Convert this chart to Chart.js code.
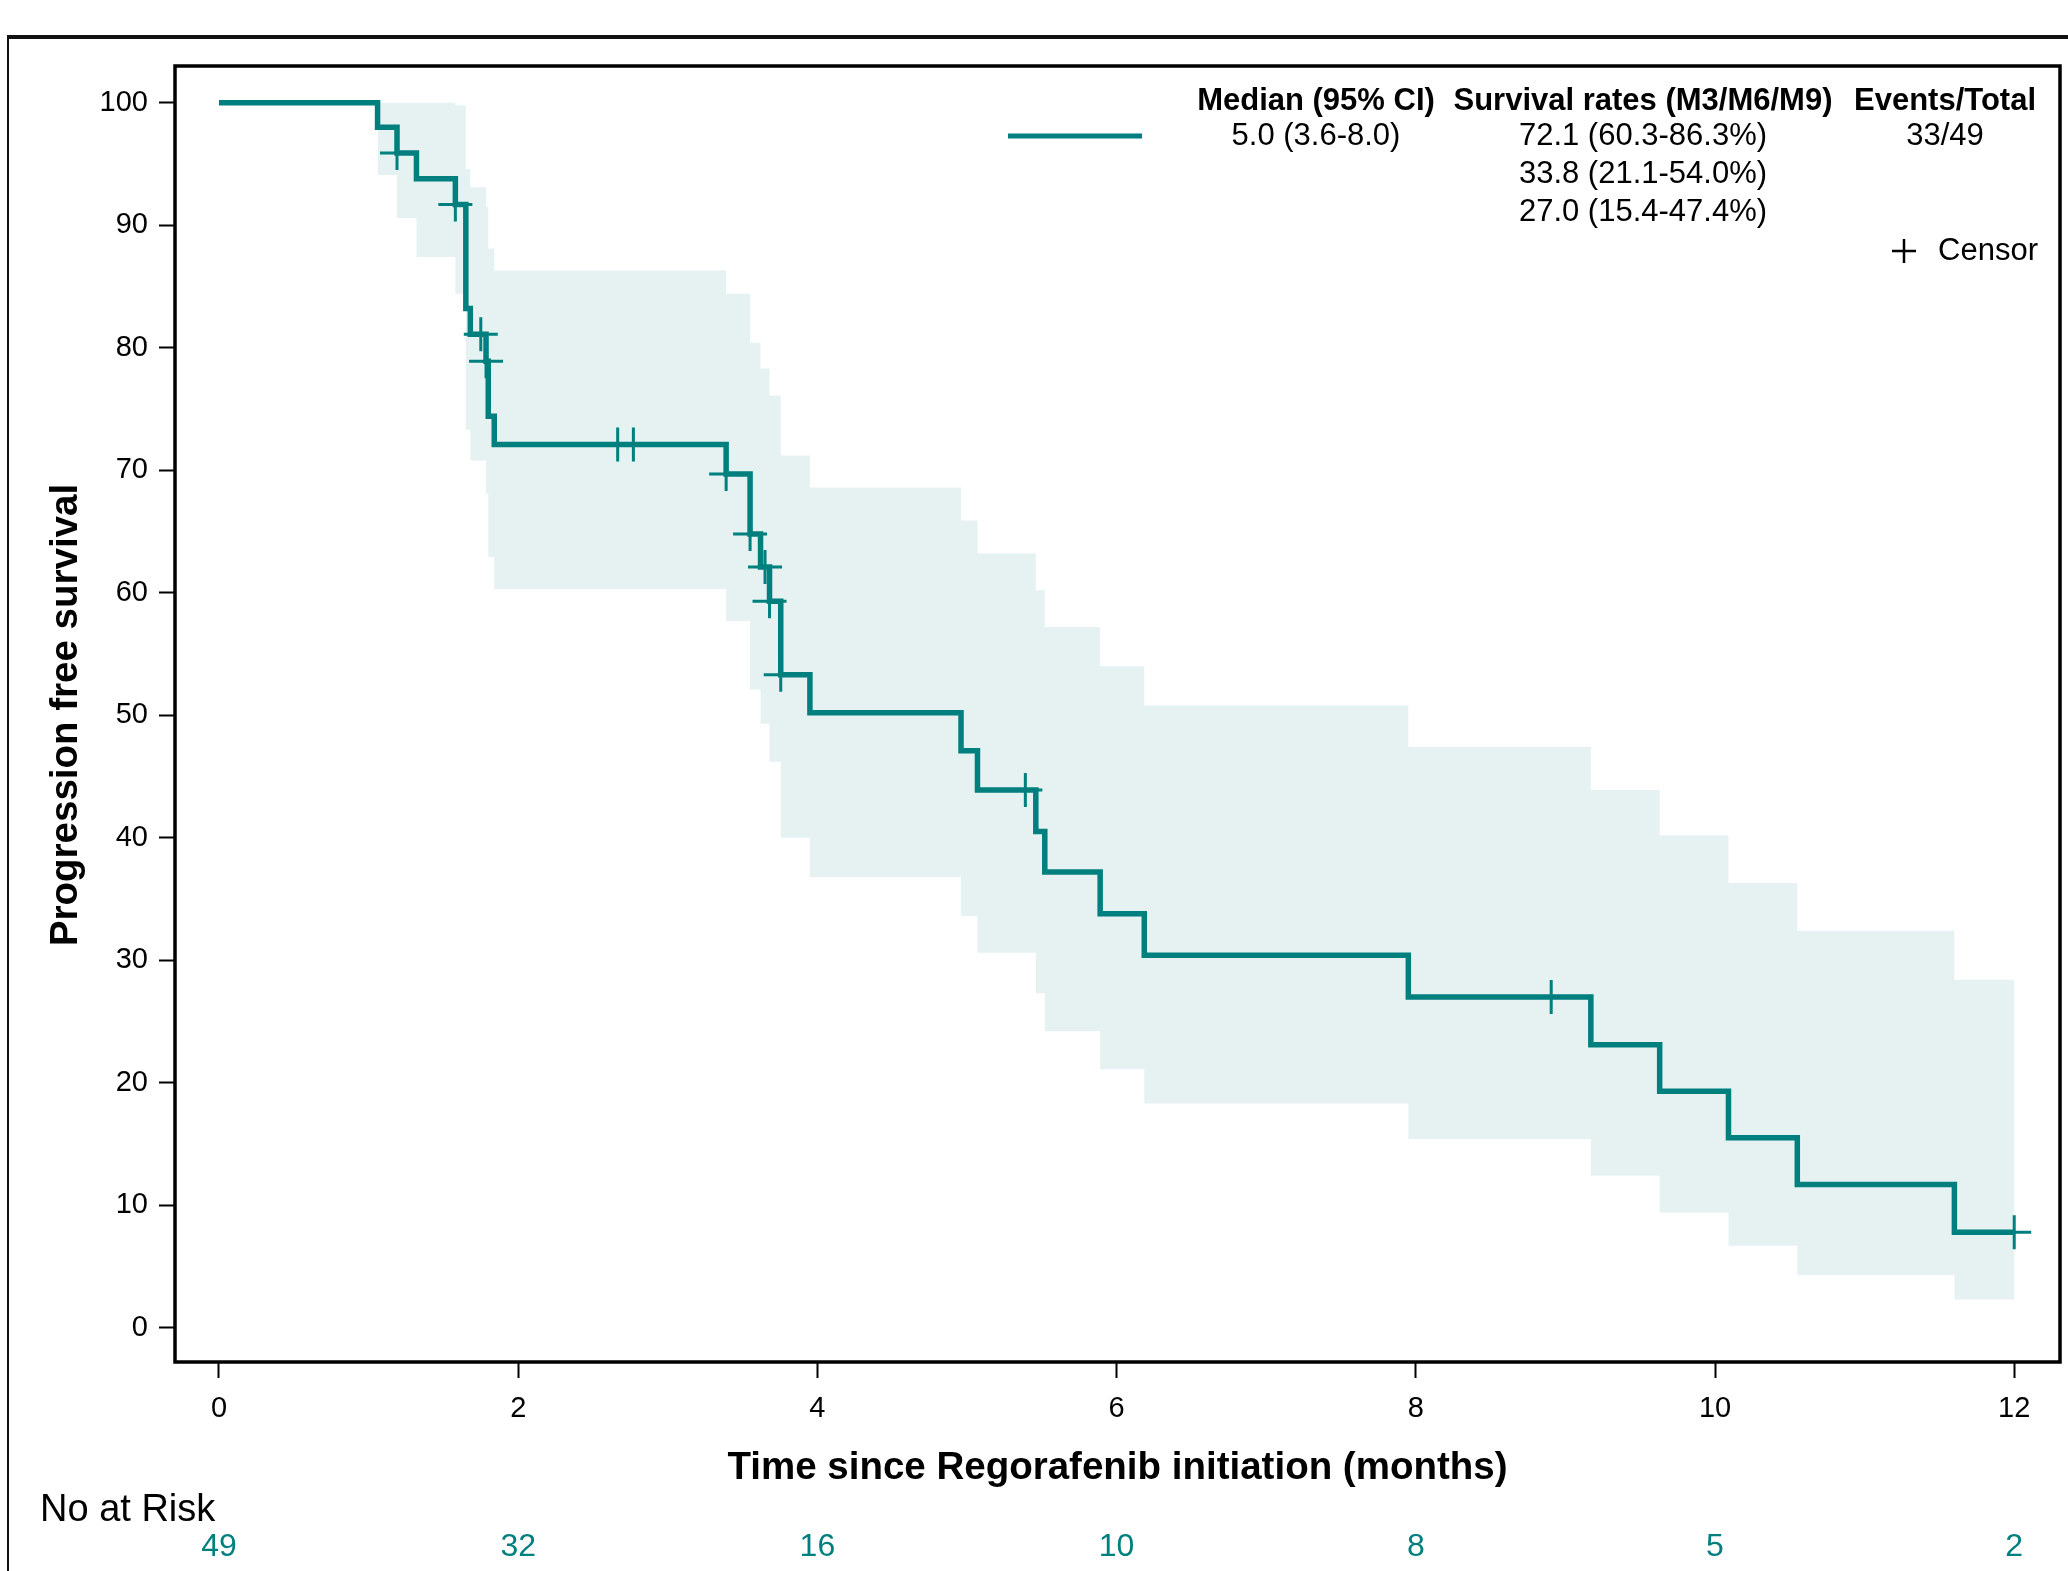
<!DOCTYPE html>
<html>
<head>
<meta charset="utf-8">
<script src="https://cdn.jsdelivr.net/npm/chart.js"></script>
<style>
    body { margin: 0; background: #ffffff; overflow: hidden; }
    #wrap { width: 2068px; height: 1571px; position: relative; }
    canvas { display: block; }
</style>
</head>
<body>
<div id="wrap"><canvas id="pfsChart" width="2068" height="1571"></canvas></div>
<script>
// Kaplan-Meier step points (months, %)
const kmTimes  = [0, 1.06, 1.19, 1.32, 1.58, 1.65, 1.68, 1.785, 1.80, 1.84, 3.39, 3.55, 3.62, 3.68, 3.755, 3.95, 4.96, 5.07, 5.46, 5.52, 5.89, 6.185, 7.95, 9.17, 9.63, 10.09, 10.55, 11.6, 12.0];
const kmSurv   = [100, 98.0, 95.9, 93.8, 91.7, 83.2, 81.1, 78.9, 74.4, 72.1, 69.7, 64.8, 62.1, 59.3, 53.3, 50.2, 47.1, 43.9, 40.5, 37.2, 33.8, 30.4, 27.0, 23.1, 19.3, 15.5, 11.7, 7.8, 7.8];

// 95% CI band, same step times from the first event on
const ciTimes  = [1.06, 1.19, 1.32, 1.58, 1.65, 1.68, 1.785, 1.80, 1.84, 3.39, 3.55, 3.62, 3.68, 3.755, 3.95, 4.96, 5.07, 5.46, 5.52, 5.89, 6.185, 7.95, 9.17, 9.63, 10.09, 10.55, 11.6, 12.0];
const ciUpper  = [100, 100, 100, 99.8, 94.6, 93.1, 91.5, 88.1, 86.3, 84.4, 80.4, 78.3, 76.1, 71.2, 68.6, 65.9, 63.2, 60.2, 57.2, 54.0, 50.8, 47.4, 43.9, 40.2, 36.3, 32.4, 28.4, 28.4];
const ciLower  = [94.1, 90.6, 87.4, 84.4, 73.3, 70.8, 68.1, 62.9, 60.3, 57.7, 52.1, 49.3, 46.2, 40.0, 36.8, 33.6, 30.6, 27.3, 24.2, 21.1, 18.3, 15.4, 12.4, 9.4, 6.7, 4.3, 2.3, 2.3];

// censored observations
const censorTimes = [1.19, 1.58, 1.75, 1.785, 2.665, 2.77, 3.39, 3.55, 3.65, 3.68, 3.755, 5.39, 8.905, 12.0];
const censorSurv  = [95.9, 91.7, 81.1, 78.9, 72.1, 72.1, 69.7, 64.8, 62.1, 59.3, 53.3, 43.9, 27.0, 7.8];

const xTicks = [0, 2, 4, 6, 8, 10, 12];
const yTicks = [0, 10, 20, 30, 40, 50, 60, 70, 80, 90, 100];

const atRiskTimes  = [0, 2, 4, 6, 8, 10, 12];
const atRiskCounts = [49, 32, 16, 10, 8, 5, 2];

const legendHeaders = ['Median (95% CI)', 'Survival rates (M3/M6/M9)', 'Events/Total'];
const medianText = '5.0 (3.6-8.0)';
const rateTexts = ['72.1 (60.3-86.3%)', '33.8 (21.1-54.0%)', '27.0 (15.4-47.4%)'];
const eventsText = '33/49';

const teal = '#007f7f';
const bandColor = '#e6f2f2';
const fontFamily = '"Liberation Sans", Arial, sans-serif';

const toPoints = (xs, ys) => xs.map((x, i) => ({ x: x, y: ys[i] }));

// frames, titles, legend block and number-at-risk row
const extrasPlugin = {
    id: 'extras',
    afterDraw(chart) {
        const ctx = chart.ctx;
        const area = chart.chartArea;
        const xScale = chart.scales.x;
        ctx.save();

        // outer panel border
        ctx.strokeStyle = '#111';
        ctx.lineWidth = 4;
        ctx.beginPath();
        ctx.moveTo(7, 37);
        ctx.lineTo(2068, 37);
        ctx.stroke();
        ctx.lineWidth = 2;
        ctx.beginPath();
        ctx.moveTo(8, 36);
        ctx.lineTo(8, 1571);
        ctx.stroke();

        // plot frame
        ctx.strokeStyle = '#000';
        ctx.lineWidth = 3.5;
        ctx.strokeRect(area.left, area.top, area.right - area.left, area.bottom - area.top);

        // axis titles
        ctx.fillStyle = '#000';
        ctx.font = 'bold 38.5px ' + fontFamily;
        ctx.textAlign = 'center';
        ctx.textBaseline = 'middle';
        ctx.fillText('Time since Regorafenib initiation (months)', (area.left + area.right) / 2, 1468);
        ctx.save();
        ctx.translate(66, 715);
        ctx.rotate(-Math.PI / 2);
        ctx.fillText('Progression free survival', 0, 0);
        ctx.restore();

        // legend block
        const colX = [1316, 1643, 1945];
        ctx.font = 'bold 31px ' + fontFamily;
        legendHeaders.forEach((h, i) => ctx.fillText(h, colX[i], 101));
        ctx.font = '31px ' + fontFamily;
        ctx.fillText(medianText, colX[0], 136);
        rateTexts.forEach((r, i) => ctx.fillText(r, colX[1], 136 + i * 38));
        ctx.fillText(eventsText, colX[2], 136);

        ctx.strokeStyle = teal;
        ctx.lineWidth = 5;
        ctx.beginPath();
        ctx.moveTo(1008, 136);
        ctx.lineTo(1142, 136);
        ctx.stroke();

        ctx.strokeStyle = '#000';
        ctx.lineWidth = 2.5;
        ctx.beginPath();
        ctx.moveTo(1892, 251);
        ctx.lineTo(1916, 251);
        ctx.moveTo(1904, 239);
        ctx.lineTo(1904, 263);
        ctx.stroke();
        ctx.textAlign = 'right';
        ctx.fillText('Censor', 2038, 251);

        // number at risk
        ctx.textAlign = 'left';
        ctx.font = '38px ' + fontFamily;
        ctx.fillText('No at Risk', 40, 1511);
        ctx.textAlign = 'center';
        ctx.fillStyle = teal;
        ctx.font = '32px ' + fontFamily;
        atRiskTimes.forEach((t, i) => {
            ctx.fillText(String(atRiskCounts[i]), xScale.getPixelForValue(t), 1547);
        });

        ctx.restore();
    }
};

const pfsCtx = document.getElementById('pfsChart').getContext('2d');

new Chart(pfsCtx, {
    type: 'line',
    data: {
        datasets: [
            {
                type: 'scatter',
                label: 'Censor',
                data: toPoints(censorTimes, censorSurv),
                pointStyle: 'cross',
                pointRadius: 17,
                pointBorderWidth: 3,
                pointBorderColor: teal,
                showLine: false,
                order: 0
            },
            {
                label: 'PFS',
                data: toPoints(kmTimes, kmSurv),
                stepped: 'before',
                borderColor: teal,
                borderWidth: 5.5,
                pointRadius: 0,
                fill: false,
                order: 1
            },
            {
                label: 'Upper CI',
                data: toPoints(ciTimes, ciUpper),
                stepped: 'before',
                borderWidth: 0,
                borderColor: 'rgba(0,0,0,0)',
                backgroundColor: bandColor,
                pointRadius: 0,
                fill: '+1',
                order: 2
            },
            {
                label: 'Lower CI',
                data: toPoints(ciTimes, ciLower),
                stepped: 'before',
                borderWidth: 0,
                borderColor: 'rgba(0,0,0,0)',
                pointRadius: 0,
                fill: false,
                order: 3
            }
        ]
    },
    options: {
        responsive: false,
        animation: false,
        devicePixelRatio: 1,
        layout: {
            autoPadding: false,
            padding: { left: 0, top: 66, right: 8, bottom: 129 }
        },
        plugins: {
            legend: { display: false },
            tooltip: { enabled: false }
        },
        scales: {
            x: {
                type: 'linear',
                min: -0.294,
                max: 12.306,
                afterBuildTicks: function(scale) {
                    scale.ticks = xTicks.map(v => ({ value: v }));
                },
                afterFit: function(scale) {
                    scale.height = 80;
                    scale.paddingLeft = 0;
                    scale.paddingRight = 0;
                },
                border: { display: false },
                grid: {
                    drawOnChartArea: false,
                    tickLength: 16,
                    tickWidth: 2,
                    tickColor: '#000'
                },
                ticks: {
                    color: '#000',
                    padding: 14,
                    maxRotation: 0,
                    font: { family: fontFamily, size: 29 }
                }
            },
            y: {
                type: 'linear',
                min: -2.8,
                max: 103,
                afterBuildTicks: function(scale) {
                    scale.ticks = yTicks.map(v => ({ value: v }));
                },
                afterFit: function(scale) {
                    scale.width = 175;
                    scale.paddingTop = 0;
                    scale.paddingBottom = 0;
                },
                border: { display: false },
                grid: {
                    drawOnChartArea: false,
                    tickLength: 16,
                    tickWidth: 2,
                    tickColor: '#000'
                },
                ticks: {
                    color: '#000',
                    padding: 11,
                    font: { family: fontFamily, size: 29 }
                }
            }
        }
    },
    plugins: [extrasPlugin]
});
</script>
</body>
</html>
